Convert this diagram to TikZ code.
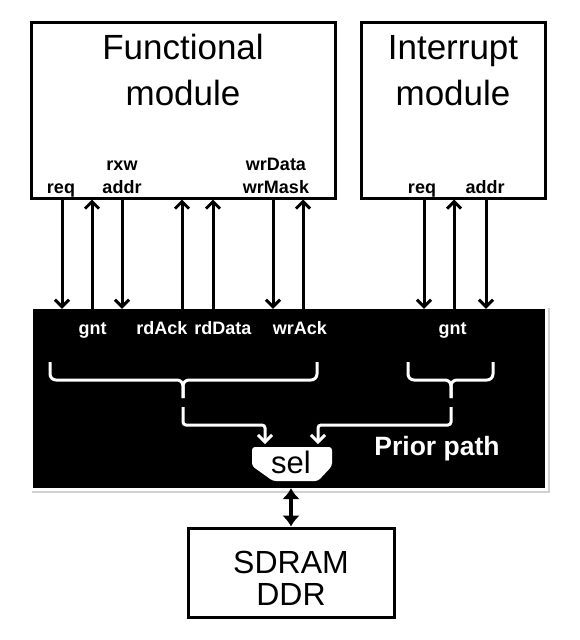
\documentclass[tikz,border=0pt]{standalone}
\usepackage{fontspec}
\setmainfont{Liberation Sans}
\usetikzlibrary{arrows.meta}
\begin{document}
\begin{tikzpicture}[x=1pt,y=-1pt,
  box/.style={draw=black, line width=3pt, fill=white, inner sep=0},
  ttl/.style={font=\fontsize{35}{42}\selectfont, anchor=base, inner sep=0},
  lbl/.style={font=\bfseries\fontsize{18}{21}\selectfont, anchor=base, inner sep=0},
  wlbl/.style={lbl, text=white},
  sig/.style={line width=3pt, -{Straight Barb[length=7pt,width=14pt]}},
  wsig/.style={sig, draw=white, rounded corners=3pt},
  brace/.style={draw=white, line width=3pt, rounded corners=6pt},
]
\useasboundingbox (0,0) rectangle (580,640);
% boxes
\node[box, minimum width=304pt, minimum height=176pt] (fm) at (183,110) {};
\node[box, minimum width=184pt, minimum height=176pt] (im) at (453,110) {};
\fill[black!18] (32,308) rectangle (550,493);
\fill[white] (30,306) rectangle (548,491);
\node[fill=black, inner sep=0, minimum width=512pt, minimum height=179pt] (bus) at (289,398.5) {};
\node[box, minimum width=206pt, minimum height=89pt] (sdram) at (291,572.5) {};
% titles
\node[ttl] (f1) at (183,59) {Functional};
\node[ttl] (f2) at (183,105) {module};
\node[ttl] (i1) at (453,59) {Interrupt};
\node[ttl] (i2) at (453,105) {module};
\node[ttl, font=\fontsize{32}{38}\selectfont] (s1) at (291,573) {SDRAM};
\node[ttl, font=\fontsize{32}{38}\selectfont] (s2) at (291,605) {DDR};
% labels in modules
\node[lbl] (lreq) at (61,193) {req};
\node[lbl] (lrxw) at (122,170) {rxw};
\node[lbl] (laddr) at (122,193) {addr};
\node[lbl] (lwrd) at (276,170) {wrData};
\node[lbl] (lwrm) at (276,193) {wrMask};
\node[lbl] (ireq) at (422,193) {req};
\node[lbl] (iaddr) at (485,193) {addr};
% labels in bus
\node[wlbl] (lgnt) at (92.5,334) {gnt};
\node[wlbl] (lrda) at (162,334) {rdAck};
\node[wlbl] (lrdd) at (223,334) {rdData};
\node[wlbl] (lwra) at (300,334) {wrAck};
\node[wlbl] (ignt) at (452.5,334) {gnt};
\node[wlbl, font=\bfseries\fontsize{26.5}{32}\selectfont] (prior) at (437,455) {Prior path};
% signal columns
\foreach \n/\x in {a/62,b/92,c/122,d/182,e/213,f/273,g/303,h/424,i/454,j/486}
  \coordinate (c\n) at (\x,0);
\foreach \n in {a,c,f} \draw[sig] (fm.south -| c\n) -- (bus.north -| c\n);
\foreach \n in {b,d,e,g} \draw[sig] (bus.north -| c\n) -- (fm.south -| c\n);
\foreach \n in {h,j} \draw[sig] (im.south -| c\n) -- (bus.north -| c\n);
\draw[sig] (bus.north -| ci) -- (im.south -| ci);
% braces
\draw[brace] (50,362) -- (50,380) -- (183,380) -- (183,398);
\draw[brace] (317,362) -- (317,380) -- (183,380) -- (183,398);
\draw[brace] (408,362) -- (408,380) -- (451,380) -- (451,398);
\draw[brace] (493,362) -- (493,380) -- (451,380) -- (451,398);
% sel
\fill[white, rounded corners=3pt] (252,466) -- (252,447) -- (332,447) -- (332,466) -- (318,481) -- (273,481) -- cycle;
\node[ttl, font=\fontsize{31}{36}\selectfont] (sel) at (291,473) {sel};
\coordinate (pl) at (183,407);
\coordinate (pr) at (451,407);
\draw[wsig] (pl) |- (265,425) -- (265,444);
\draw[wsig] (pr) |- (318,425) -- (318,444);
% memory link
\coordinate (cs) at (291,0);
\draw[line width=3.5pt, {Latex[length=11pt,width=18pt]}-{Latex[length=11pt,width=18pt]}] (bus.south -| cs) -- (sdram.north -| cs);
\end{tikzpicture}
\end{document}
